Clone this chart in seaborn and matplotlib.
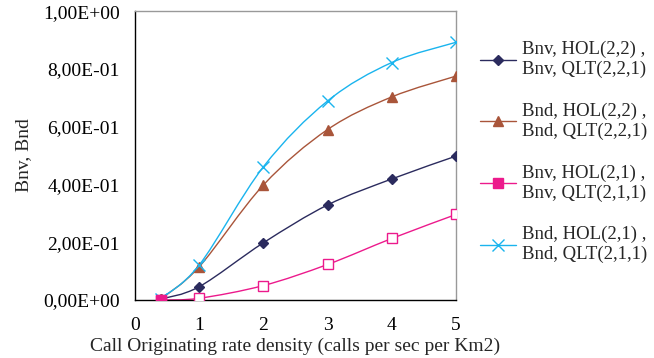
import numpy as np
import pandas as pd
import matplotlib
matplotlib.use('Agg')
import matplotlib.pyplot as plt
import seaborn as sns
from matplotlib.path import Path
from matplotlib.patches import PathPatch
from matplotlib.lines import Line2D

# datos
x_vals = [0.4, 1, 2, 3, 4, 5]
bnv_hol22 = [0.003, 0.046, 0.198, 0.329, 0.419, 0.498]
bnd_hol22 = [0.003, 0.115, 0.398, 0.590, 0.703, 0.775]
bnv_hol21 = [0.000, 0.006, 0.050, 0.123, 0.213, 0.296]
bnd_hol21 = [0.005, 0.121, 0.461, 0.689, 0.822, 0.892]

labels = ['Bnv, HOL(2,2) ,\nBnv, QLT(2,2,1)',
          'Bnd, HOL(2,2) ,\nBnd, QLT(2,2,1)',
          'Bnv, HOL(2,1) ,\nBnv, QLT(2,1,1)',
          'Bnd, HOL(2,1) ,\nBnd, QLT(2,1,1)']
series = [bnv_hol22, bnd_hol22, bnv_hol21, bnd_hol21]
colores = ['#2b2b5e', '#a9553a', '#ec1a8c', '#1ab4ee']
marcadores = ['D', '^', 's', 'x']
tamanos = [5.5, 7.5, 7.5, 8]

tabla = pd.DataFrame({'x': x_vals * 4,
                      'y': sum(series, []),
                      'serie': sum([[l] * len(x_vals) for l in labels], [])})

sns.set_style('white')
plt.rcParams['font.family'] = ['Liberation Serif', 'DejaVu Serif']

fig = plt.figure(figsize=(6.54, 3.58), dpi=100)
ax = fig.add_axes([0.2064, 0.162, 0.4908, 0.807])


def curva_suave(ax, xs, ys, color):
    # linea suavizada tipo excel (catmull-rom -> bezier)
    pts = np.column_stack([xs, ys])
    verts = [tuple(pts[0])]
    codes = [Path.MOVETO]
    n = len(pts)
    for i in range(n - 1):
        p0 = pts[i - 1] if i > 0 else pts[i]
        p1 = pts[i]
        p2 = pts[i + 1]
        p3 = pts[i + 2] if i + 2 < n else pts[i + 1]
        c1 = p1 + (p2 - p0) / 6.0
        c2 = p2 - (p3 - p1) / 6.0
        verts += [tuple(c1), tuple(c2), tuple(p2)]
        codes += [Path.CURVE4] * 3
    ax.add_patch(PathPatch(Path(verts, codes), fill=False, edgecolor=color, lw=1.0, zorder=2))


handles = []
for lab, col, mk, ms in zip(labels, colores, marcadores, tamanos):
    d = tabla[tabla['serie'] == lab]
    curva_suave(ax, d['x'].values, d['y'].values, col)
    if mk == 's':
        ax.plot(d['x'], d['y'], linestyle='', marker=mk, ms=ms, mfc='white', mec=col, mew=1.0, zorder=3)
        ax.plot(d['x'].values[:1], d['y'].values[:1], linestyle='', marker=mk, ms=ms, color=col, zorder=4)
    else:
        sns.lineplot(data=d, x='x', y='y', ax=ax, linestyle='', marker=mk, markersize=ms,
                     color=col, markeredgecolor=col, markeredgewidth=1.0, zorder=3, legend=False)
    handles.append(Line2D([0], [0], color=col, lw=1.0, marker=mk, ms=ms, mfc=col, mec=col))

ax.set_xlim(0, 5)
ax.set_ylim(0, 1)
ax.set_xticks(range(0, 6))
ax.set_yticks(np.arange(0, 1.01, 0.2))
ax.set_yticklabels(['0,00E+00', '2,00E-01', '4,00E-01', '6,00E-01', '8,00E-01', '1,00E+00'])
ax.tick_params(axis='both', direction='out', length=5, width=1, colors='black', labelsize=14)
ax.tick_params(axis='y', pad=6)
ax.tick_params(axis='x', pad=7)
for s in ['left', 'bottom']:
    ax.spines[s].set_color('black')
    ax.spines[s].set_linewidth(1.0)
for s in ['top', 'right']:
    ax.spines[s].set_color('#999999')
    ax.spines[s].set_linewidth(1.0)
ax.set_xlabel('Call Originating rate density (calls per sec per Km2)', fontsize=14, labelpad=3)
ax.set_ylabel('Bnv, Bnd', fontsize=14, labelpad=8)

fig.legend(handles=handles, labels=labels, loc='upper left', bbox_to_anchor=(480 / 654, 1 - 41 / 358),
           frameon=False, fontsize=13.5, handlelength=1.9, handletextpad=0.35,
           labelspacing=1.3, borderpad=0, borderaxespad=0)

plt.savefig('out.png', dpi=100)
plt.close()
